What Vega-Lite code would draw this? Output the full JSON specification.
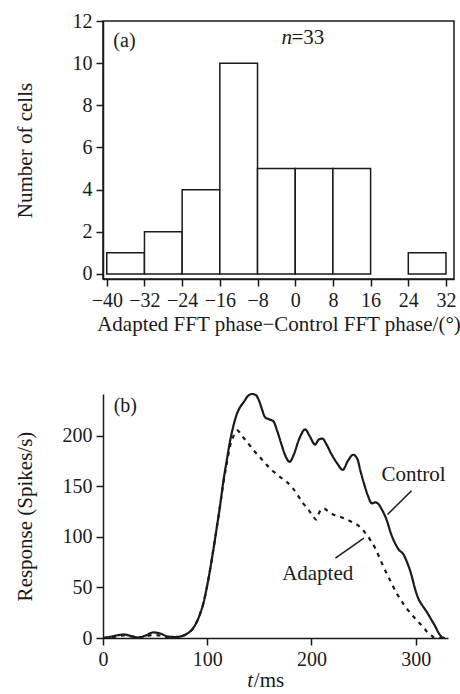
{
  "$schema": "https://vega.github.io/schema/vega-lite/v6.json",
  "background": "white",
  "padding": {"left": 13, "top": 10, "right": 0, "bottom": 0},
  "spacing": 54,
  "config": {
    "font": "Liberation Serif",
    "view": {"stroke": null},
    "axis": {
      "labelFont": "Liberation Serif", "titleFont": "Liberation Serif",
      "labelFontSize": 20, "titleFontSize": 21, "titleFontWeight": "normal",
      "labelColor": "#1a1a1a", "titleColor": "#1a1a1a",
      "domainColor": "#1a1a1a", "tickColor": "#1a1a1a",
      "domainWidth": 1.5, "tickWidth": 1.5, "tickSize": 7,
      "grid": false, "labelPadding": 4, "labelOverlap": false, "labelFlush": false
    },
    "text": {"font": "Liberation Serif", "fontSize": 21, "color": "#1a1a1a"}
  },
  "datasets": {
    "hist": [
      {"bin_start": -40, "bin_end": -32, "count": 1},
      {"bin_start": -32, "bin_end": -24, "count": 2},
      {"bin_start": -24, "bin_end": -16, "count": 4},
      {"bin_start": -16, "bin_end": -8, "count": 10},
      {"bin_start": -8, "bin_end": 0, "count": 5},
      {"bin_start": 0, "bin_end": 8, "count": 5},
      {"bin_start": 8, "bin_end": 16, "count": 5},
      {"bin_start": 16, "bin_end": 24, "count": 0},
      {"bin_start": 24, "bin_end": 32, "count": 1}
    ],
    "psth": [
      {"series": "Control", "t": 0, "r": 0},
      {"series": "Control", "t": 6, "r": 1},
      {"series": "Control", "t": 13, "r": 2.5},
      {"series": "Control", "t": 20, "r": 3.5},
      {"series": "Control", "t": 27, "r": 2},
      {"series": "Control", "t": 34, "r": 0.5},
      {"series": "Control", "t": 41, "r": 2.5},
      {"series": "Control", "t": 48, "r": 5.5},
      {"series": "Control", "t": 55, "r": 4.5},
      {"series": "Control", "t": 62, "r": 1.5},
      {"series": "Control", "t": 70, "r": 1},
      {"series": "Control", "t": 76, "r": 2},
      {"series": "Control", "t": 81, "r": 4.5},
      {"series": "Control", "t": 86, "r": 9},
      {"series": "Control", "t": 90, "r": 16},
      {"series": "Control", "t": 93.5, "r": 25},
      {"series": "Control", "t": 96.5, "r": 35},
      {"series": "Control", "t": 100, "r": 52},
      {"series": "Control", "t": 103, "r": 69},
      {"series": "Control", "t": 106, "r": 88},
      {"series": "Control", "t": 109, "r": 108},
      {"series": "Control", "t": 112.5, "r": 132},
      {"series": "Control", "t": 115.5, "r": 155},
      {"series": "Control", "t": 119, "r": 177},
      {"series": "Control", "t": 122, "r": 195},
      {"series": "Control", "t": 125, "r": 209},
      {"series": "Control", "t": 128, "r": 220},
      {"series": "Control", "t": 131.5, "r": 228},
      {"series": "Control", "t": 135, "r": 233},
      {"series": "Control", "t": 139, "r": 239},
      {"series": "Control", "t": 143, "r": 241},
      {"series": "Control", "t": 146.5, "r": 240},
      {"series": "Control", "t": 149.5, "r": 235},
      {"series": "Control", "t": 152.5, "r": 226},
      {"series": "Control", "t": 155.5, "r": 218},
      {"series": "Control", "t": 159.5, "r": 216},
      {"series": "Control", "t": 163.5, "r": 214},
      {"series": "Control", "t": 167, "r": 205},
      {"series": "Control", "t": 171, "r": 192},
      {"series": "Control", "t": 175, "r": 180},
      {"series": "Control", "t": 179, "r": 174},
      {"series": "Control", "t": 183, "r": 181},
      {"series": "Control", "t": 188, "r": 196},
      {"series": "Control", "t": 194, "r": 206},
      {"series": "Control", "t": 198.5, "r": 199},
      {"series": "Control", "t": 203.5, "r": 191},
      {"series": "Control", "t": 207, "r": 196},
      {"series": "Control", "t": 210.5, "r": 197},
      {"series": "Control", "t": 214, "r": 192},
      {"series": "Control", "t": 219, "r": 182},
      {"series": "Control", "t": 225, "r": 172},
      {"series": "Control", "t": 230, "r": 166},
      {"series": "Control", "t": 235, "r": 175},
      {"series": "Control", "t": 240, "r": 181},
      {"series": "Control", "t": 244, "r": 177},
      {"series": "Control", "t": 247, "r": 165},
      {"series": "Control", "t": 250, "r": 154},
      {"series": "Control", "t": 254, "r": 141},
      {"series": "Control", "t": 258, "r": 133},
      {"series": "Control", "t": 261.5, "r": 134},
      {"series": "Control", "t": 264.5, "r": 132},
      {"series": "Control", "t": 268, "r": 126},
      {"series": "Control", "t": 272, "r": 117},
      {"series": "Control", "t": 276, "r": 104},
      {"series": "Control", "t": 280, "r": 94},
      {"series": "Control", "t": 284, "r": 87},
      {"series": "Control", "t": 288, "r": 83},
      {"series": "Control", "t": 292, "r": 74},
      {"series": "Control", "t": 296, "r": 62},
      {"series": "Control", "t": 299, "r": 50},
      {"series": "Control", "t": 302.5, "r": 39},
      {"series": "Control", "t": 306.5, "r": 32},
      {"series": "Control", "t": 310.5, "r": 26},
      {"series": "Control", "t": 314.5, "r": 19},
      {"series": "Control", "t": 318.5, "r": 12},
      {"series": "Control", "t": 322, "r": 5},
      {"series": "Control", "t": 325, "r": 1},
      {"series": "Control", "t": 328, "r": 0},
      {"series": "Adapted", "t": 0, "r": 0},
      {"series": "Adapted", "t": 6, "r": 0.5},
      {"series": "Adapted", "t": 13, "r": 1.5},
      {"series": "Adapted", "t": 20, "r": 2.5},
      {"series": "Adapted", "t": 27, "r": 1.5},
      {"series": "Adapted", "t": 34, "r": 0.5},
      {"series": "Adapted", "t": 41, "r": 1.5},
      {"series": "Adapted", "t": 48, "r": 3},
      {"series": "Adapted", "t": 55, "r": 2.5},
      {"series": "Adapted", "t": 62, "r": 1},
      {"series": "Adapted", "t": 70, "r": 1},
      {"series": "Adapted", "t": 76, "r": 2},
      {"series": "Adapted", "t": 81, "r": 4.5},
      {"series": "Adapted", "t": 86, "r": 9},
      {"series": "Adapted", "t": 90, "r": 16},
      {"series": "Adapted", "t": 93.5, "r": 25},
      {"series": "Adapted", "t": 96.5, "r": 35},
      {"series": "Adapted", "t": 100, "r": 52},
      {"series": "Adapted", "t": 103, "r": 69},
      {"series": "Adapted", "t": 106, "r": 88},
      {"series": "Adapted", "t": 109, "r": 108},
      {"series": "Adapted", "t": 112.5, "r": 132},
      {"series": "Adapted", "t": 115.5, "r": 153},
      {"series": "Adapted", "t": 119, "r": 174},
      {"series": "Adapted", "t": 122, "r": 190},
      {"series": "Adapted", "t": 125.5, "r": 200},
      {"series": "Adapted", "t": 129, "r": 205},
      {"series": "Adapted", "t": 133, "r": 200},
      {"series": "Adapted", "t": 138, "r": 194},
      {"series": "Adapted", "t": 144, "r": 186},
      {"series": "Adapted", "t": 151, "r": 178},
      {"series": "Adapted", "t": 157, "r": 171},
      {"series": "Adapted", "t": 163.5, "r": 164.5},
      {"series": "Adapted", "t": 170, "r": 159},
      {"series": "Adapted", "t": 176, "r": 154.5},
      {"series": "Adapted", "t": 182, "r": 148},
      {"series": "Adapted", "t": 187.5, "r": 140},
      {"series": "Adapted", "t": 192, "r": 133},
      {"series": "Adapted", "t": 197, "r": 127},
      {"series": "Adapted", "t": 201, "r": 121},
      {"series": "Adapted", "t": 204.5, "r": 117},
      {"series": "Adapted", "t": 207.5, "r": 124},
      {"series": "Adapted", "t": 212, "r": 128},
      {"series": "Adapted", "t": 216, "r": 125},
      {"series": "Adapted", "t": 221, "r": 122},
      {"series": "Adapted", "t": 227, "r": 120},
      {"series": "Adapted", "t": 234, "r": 117},
      {"series": "Adapted", "t": 240, "r": 114},
      {"series": "Adapted", "t": 245, "r": 111},
      {"series": "Adapted", "t": 249, "r": 107},
      {"series": "Adapted", "t": 253, "r": 102},
      {"series": "Adapted", "t": 257, "r": 96},
      {"series": "Adapted", "t": 261, "r": 89},
      {"series": "Adapted", "t": 265, "r": 80},
      {"series": "Adapted", "t": 269, "r": 70.5},
      {"series": "Adapted", "t": 274, "r": 60},
      {"series": "Adapted", "t": 278.5, "r": 50.5},
      {"series": "Adapted", "t": 283, "r": 42},
      {"series": "Adapted", "t": 288, "r": 34},
      {"series": "Adapted", "t": 293, "r": 27},
      {"series": "Adapted", "t": 298, "r": 21},
      {"series": "Adapted", "t": 302.5, "r": 16},
      {"series": "Adapted", "t": 307, "r": 11},
      {"series": "Adapted", "t": 311, "r": 6},
      {"series": "Adapted", "t": 315, "r": 2.5},
      {"series": "Adapted", "t": 318.5, "r": 0},
      {"series": "Adapted", "t": 331, "r": 0}
    ],
    "one": [{"k": 1}]
  },
  "vconcat": [
    {
      "width": 351,
      "height": 258,
      "view": {"stroke": "#1a1a1a", "strokeWidth": 1.5},
      "layer": [
        {
          "data": {"name": "hist"},
          "transform": [{"filter": "datum.count > 0"}],
          "mark": {"type": "rect", "fill": "white", "stroke": "#1a1a1a", "strokeWidth": 1.5},
          "encoding": {
            "x": {
              "field": "bin_start", "type": "quantitative",
              "scale": {"domain": [-40.8, 33.7], "nice": false, "zero": false},
              "axis": {"values": [-40, -32, -24, -16, -8, 0, 8, 16, 24, 32], "tickCount": 12, "labelOverlap": false, "title": "Adapted FFT phase\u2212Control FFT phase/(\u00b0)", "titlePadding": 3}
            },
            "x2": {"field": "bin_end"},
            "y": {
              "field": "count", "type": "quantitative",
              "scale": {"domain": [-0.24, 12], "nice": false, "zero": false},
              "axis": {"values": [0, 2, 4, 6, 8, 10, 12], "tickCount": 8, "labelOverlap": false, "title": "Number of cells", "titlePadding": 37}
            },
            "y2": {"datum": 0}
          }
        },
        {
          "data": {"name": "one"},
          "mark": {"type": "text", "align": "left", "baseline": "alphabetic", "fontSize": 20},
          "encoding": {"x": {"datum": -38.6}, "y": {"datum": 10.77}, "text": {"value": "(a)"}}
        },
        {
          "data": {"name": "one"},
          "mark": {"type": "text", "align": "left", "baseline": "alphabetic", "fontStyle": "italic", "fontSize": 21},
          "encoding": {"x": {"datum": -2.9}, "y": {"datum": 10.91}, "text": {"value": "n"}}
        },
        {
          "data": {"name": "one"},
          "mark": {"type": "text", "align": "left", "baseline": "alphabetic", "fontSize": 21},
          "encoding": {"x": {"datum": -0.8}, "y": {"datum": 10.91}, "text": {"value": "=33"}}
        }
      ]
    },
    {
      "width": 345,
      "height": 244,
      "layer": [
        {
          "data": {"name": "psth"},
          "mark": {"type": "line", "color": "#1a1a1a", "strokeWidth": 2.2, "interpolate": "monotone"},
          "encoding": {
            "x": {
              "field": "t", "type": "quantitative",
              "scale": {"domain": [0, 331], "nice": false, "zero": false},
              "axis": {"values": [0, 100, 200, 300], "tickCount": 6, "labelOverlap": false, "title": null}
            },
            "y": {
              "field": "r", "type": "quantitative",
              "scale": {"domain": [0, 241], "nice": false},
              "axis": {"values": [0, 50, 100, 150, 200], "tickCount": 8, "labelOverlap": false, "title": "Response (Spikes/s)", "titlePadding": 27}
            },
            "strokeDash": {
              "field": "series", "type": "nominal",
              "scale": {"domain": ["Control", "Adapted"], "range": [[1, 0], [4, 5]]},
              "legend": null
            }
          }
        },
        {
          "data": {"name": "one"},
          "mark": {"type": "rule", "color": "#1a1a1a", "strokeWidth": 1.5},
          "encoding": {"x": {"datum": 273}, "y": {"datum": 122}, "x2": {"datum": 296}, "y2": {"datum": 145.5}}
        },
        {
          "data": {"name": "one"},
          "mark": {"type": "rule", "color": "#1a1a1a", "strokeWidth": 1.5},
          "encoding": {"x": {"datum": 223}, "y": {"datum": 79}, "x2": {"datum": 250.3}, "y2": {"datum": 98.7}}
        },
        {
          "data": {"name": "one"},
          "mark": {"type": "text", "align": "center", "baseline": "alphabetic"},
          "encoding": {"x": {"datum": 298}, "y": {"datum": 154.7}, "text": {"value": "Control"}}
        },
        {
          "data": {"name": "one"},
          "mark": {"type": "text", "align": "center", "baseline": "alphabetic"},
          "encoding": {"x": {"datum": 206}, "y": {"datum": 57.6}, "text": {"value": "Adapted"}}
        },
        {
          "data": {"name": "one"},
          "mark": {"type": "text", "align": "left", "baseline": "alphabetic", "fontSize": 20},
          "encoding": {"x": {"datum": 10.2}, "y": {"datum": 222.8}, "text": {"value": "(b)"}}
        },
        {
          "data": {"name": "one"},
          "mark": {"type": "text", "align": "left", "baseline": "alphabetic", "fontStyle": "italic"},
          "encoding": {"x": {"datum": 138.3}, "y": {"datum": -48}, "text": {"value": "t"}}
        },
        {
          "data": {"name": "one"},
          "mark": {"type": "text", "align": "left", "baseline": "alphabetic"},
          "encoding": {"x": {"datum": 144.7}, "y": {"datum": -48}, "text": {"value": "/ms"}}
        }
      ]
    }
  ]
}
